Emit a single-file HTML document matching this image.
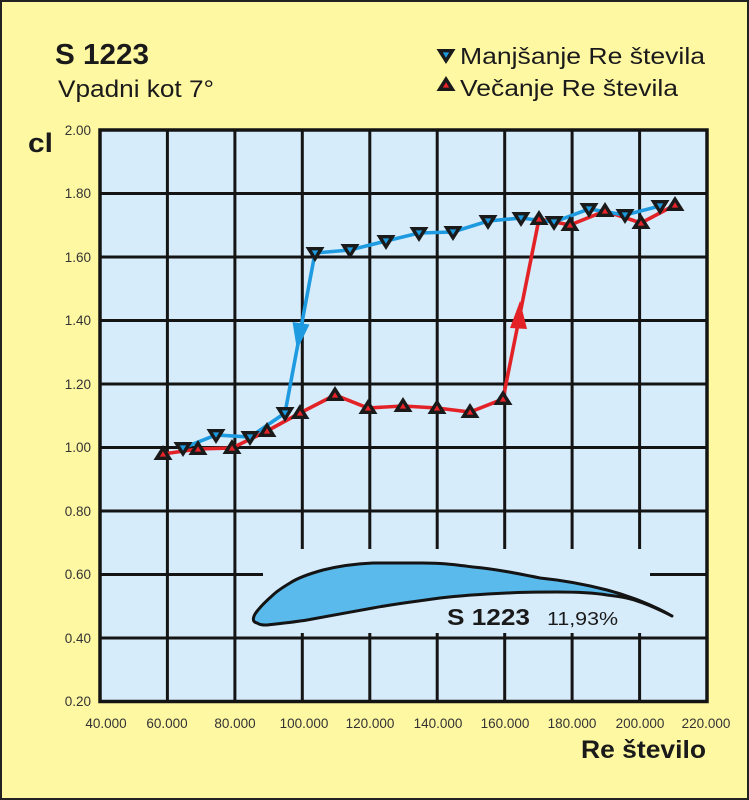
<!DOCTYPE html>
<html><head><meta charset="utf-8"><style>
html,body{margin:0;padding:0;background:#FFF8A3;}
svg{display:block;}
text{font-family:"Liberation Sans",Arial,sans-serif;}
</style></head><body>
<svg width="749" height="800" viewBox="0 0 749 800" xmlns="http://www.w3.org/2000/svg">
<defs>
<g id="tu"><polygon points="-9.5,6 9.5,6 0,-9" fill="#1a1a1a"/><polygon points="-3.2,2.6 3.2,2.6 0,-2.8" fill="#E8242A"/></g>
<g id="td"><polygon points="-9.5,-6 9.5,-6 0,9" fill="#1a1a1a"/><polygon points="-3.2,-2.6 3.2,-2.6 0,2.8" fill="#1E9BE0"/></g>
</defs>
<rect x="1" y="1" width="747" height="798" fill="#FFF8A3" stroke="#222" stroke-width="2"/>
<rect x="100" y="130" width="607" height="571.5" fill="#D7ECFA"/>
<g stroke="#141414" stroke-width="3">
<line x1="167.4" y1="130" x2="167.4" y2="701.5"/>
<line x1="234.9" y1="130" x2="234.9" y2="701.5"/>
<line x1="302.3" y1="130" x2="302.3" y2="701.5"/>
<line x1="369.8" y1="130" x2="369.8" y2="701.5"/>
<line x1="437.2" y1="130" x2="437.2" y2="701.5"/>
<line x1="504.7" y1="130" x2="504.7" y2="701.5"/>
<line x1="572.1" y1="130" x2="572.1" y2="701.5"/>
<line x1="639.6" y1="130" x2="639.6" y2="701.5"/>
<line x1="100" y1="193.5" x2="707" y2="193.5"/>
<line x1="100" y1="257" x2="707" y2="257"/>
<line x1="100" y1="320.5" x2="707" y2="320.5"/>
<line x1="100" y1="384" x2="707" y2="384"/>
<line x1="100" y1="447.5" x2="707" y2="447.5"/>
<line x1="100" y1="511" x2="707" y2="511"/>
<line x1="100" y1="574.5" x2="707" y2="574.5"/>
<line x1="100" y1="638" x2="707" y2="638"/>
</g>
<rect x="263" y="549" width="387" height="84" fill="#D7ECFA"/>
<rect x="100" y="130" width="607" height="571.5" fill="none" stroke="#141414" stroke-width="3.5"/>
<path d="M672,616 C655,606 630,596 607,590 C580,583 560,580 540,578 C515,573 495,569 473,567 C450,564 440,563 423,563 L373,563 C350,564 335,567 323,570 C305,575 296,579 290,583 C280,589 276,592 273,595 C265,602 262,605 258,610 C252,617 252,622 257,623 C260,625 263,625 267,625 C285,623 295,622 307,620 C335,615 350,612 373,608 C400,603 420,601 440,598 C465,595 485,594 507,593 C525,592 540,592 557,592 C580,592 595,593 607,595 C625,597 632,599 640,602 C652,606 662,611 672,616 Z" fill="#5ABAEC" stroke="#141414" stroke-width="3" stroke-linejoin="round"/>
<text x="447" y="625" font-size="23" font-weight="bold" fill="#1a1a1a" textLength="83" lengthAdjust="spacingAndGlyphs">S 1223</text>
<text x="547" y="625" font-size="18" fill="#1a1a1a" textLength="71" lengthAdjust="spacingAndGlyphs">11,93%</text>
<polyline points="163,454 198,449 232,448 267,431 300,413 335,395 368,408 403,406 437,408 470,412 503,399 539,219 570,225 605,211 641,223 675,205" fill="none" stroke="#E32228" stroke-width="3.6"/>
<polyline points="183,448 216,435 250,437 285,413 315,253 350,250 386,241 419,233 453,232 488,221 521,218 554,222 589,209 625,215 660,206" fill="none" stroke="#1E9BE0" stroke-width="3.6"/>
<polygon points="297,350 292.5,322 309.5,324.5" fill="#1E9BE0"/>
<polygon points="520,301 510,328 527,329" fill="#E32228"/>
<use href="#tu" x="163" y="454"/><use href="#tu" x="198" y="449"/><use href="#tu" x="232" y="448"/><use href="#tu" x="267" y="431"/><use href="#tu" x="300" y="413"/><use href="#tu" x="335" y="395"/><use href="#tu" x="368" y="408"/><use href="#tu" x="403" y="406"/><use href="#tu" x="437" y="408"/><use href="#tu" x="470" y="412"/><use href="#tu" x="503" y="399"/><use href="#tu" x="539" y="219"/><use href="#tu" x="570" y="225"/><use href="#tu" x="605" y="211"/><use href="#tu" x="641" y="223"/><use href="#tu" x="675" y="205"/>
<use href="#td" x="183" y="448"/><use href="#td" x="216" y="435"/><use href="#td" x="250" y="437"/><use href="#td" x="285" y="413"/><use href="#td" x="315" y="253"/><use href="#td" x="350" y="250"/><use href="#td" x="386" y="241"/><use href="#td" x="419" y="233"/><use href="#td" x="453" y="232"/><use href="#td" x="488" y="221"/><use href="#td" x="521" y="218"/><use href="#td" x="554" y="222"/><use href="#td" x="589" y="209"/><use href="#td" x="625" y="215"/><use href="#td" x="660" y="206"/>
<g font-size="13.5" fill="#333" text-anchor="end">
<text x="91" y="135">2.00</text>
<text x="91" y="198">1.80</text>
<text x="91" y="262">1.60</text>
<text x="91" y="325">1.40</text>
<text x="91" y="389">1.20</text>
<text x="91" y="452">1.00</text>
<text x="91" y="516">0.80</text>
<text x="91" y="579">0.60</text>
<text x="91" y="643">0.40</text>
<text x="91" y="706">0.20</text>
</g>
<g font-size="13.5" fill="#333" text-anchor="middle">
<text x="106" y="728">40.000</text>
<text x="167" y="728">60.000</text>
<text x="235" y="728">80.000</text>
<text x="304" y="728">100.000</text>
<text x="370" y="728">120.000</text>
<text x="438" y="728">140.000</text>
<text x="505" y="728">160.000</text>
<text x="572" y="728">180.000</text>
<text x="640" y="728">200.000</text>
<text x="706" y="728">220.000</text>
</g>
<text x="55" y="64" font-size="29" font-weight="bold" fill="#1a1a1a" textLength="94" lengthAdjust="spacingAndGlyphs">S 1223</text>
<text x="58" y="97" font-size="24" fill="#1a1a1a" textLength="156" lengthAdjust="spacingAndGlyphs">Vpadni kot 7°</text>
<text x="28" y="152" font-size="27" font-weight="bold" fill="#1a1a1a" textLength="25" lengthAdjust="spacingAndGlyphs">cl</text>
<text x="581" y="758" font-size="25" font-weight="bold" fill="#1a1a1a" textLength="125" lengthAdjust="spacingAndGlyphs">Re število</text>
<use href="#td" x="446" y="55"/>
<use href="#tu" x="446" y="85"/>
<text x="460" y="64" font-size="23" fill="#1a1a1a" textLength="245" lengthAdjust="spacingAndGlyphs">Manjšanje Re števila</text>
<text x="460" y="96" font-size="23" fill="#1a1a1a" textLength="218" lengthAdjust="spacingAndGlyphs">Večanje Re števila</text>
</svg>
</body></html>
